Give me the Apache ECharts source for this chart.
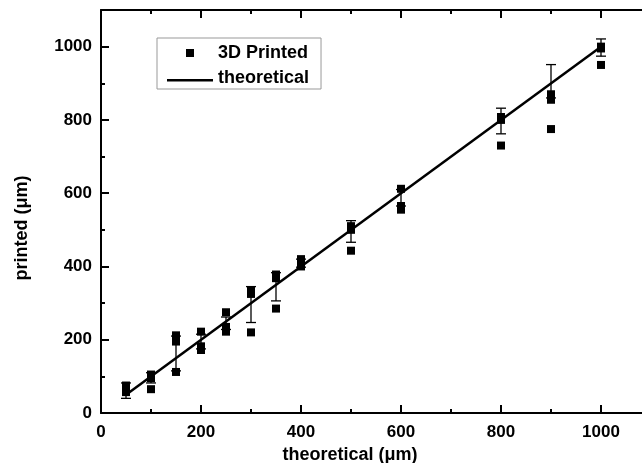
<!DOCTYPE html>
<html>
<head>
<meta charset="utf-8">
<script src="https://cdn.jsdelivr.net/npm/echarts@6/dist/echarts.min.js"></script>
<style>html,body{margin:0;padding:0;background:#fff}#c{width:642px;height:463px}</style>
</head>
<body>
<div id="c"></div>
<script>
// theoretical sizes (µm)
const theoretical = [50, 100, 150, 200, 250, 300, 350, 400, 500, 600, 800, 900, 1000];
// three printed samples per size (µm)
const printedA = [75, 105, 212, 222, 275, 335, 378, 420, 510, 612, 808, 870, 1000];
const printedB = [68, 95, 195, 182, 235, 325, 368, 405, 500, 565, 800, 855, 995];
const printedC = [57, 65, 112, 172, 222, 220, 285, 400, 443, 555, 730, 775, 950];
// error bar bounds
const errLow  = [40, 82, 115, 175, 228, 247, 306, 398, 466, 565, 762, 860, 974];
const errHigh = [82, 110, 210, 215, 262, 345, 383, 420, 525, 610, 832, 951, 1021];
// theoretical line endpoints
const lineX = [50, 1000];
// ticks
const majorTicks = [0, 200, 400, 600, 800, 1000];
const minorTicks = [100, 300, 500, 700, 900];

const FONT = 'Liberation Sans, Arial, sans-serif';

const scatterData = [];
theoretical.forEach((t, i) => {
  scatterData.push([t, printedA[i]]);
  scatterData.push([t, printedB[i]]);
  scatterData.push([t, printedC[i]]);
});
const errData = theoretical.map((t, i) => [t, errLow[i], errHigh[i]]);
const lineData = lineX.map(v => [v, v]);

function axisSet(dir, position, major, showLine, withLabel, name) {
  const a = {
    type: 'value', position: position, min: 0, max: 1100,
    axisLine: { show: showLine, onZero: false, lineStyle: { color: '#000', width: 2 } },
    axisTick: { show: true, inside: true, customValues: major ? majorTicks : minorTicks,
                length: major ? 8 : 4, lineStyle: { color: '#000', width: 2 } },
    axisLabel: { show: withLabel, customValues: majorTicks, color: '#000',
                 formatter: function (v) { return String(v); },
                 fontFamily: FONT, fontWeight: 'bold', fontSize: 17, margin: dir === 'x' ? 11 : 9 },
    splitLine: { show: false }
  };
  if (name) {
    a.name = name;
    a.nameLocation = 'middle';
    a.nameTextStyle = { color: '#000', fontFamily: FONT, fontWeight: 'bold', fontSize: 18,
                        padding: dir === 'x' ? [0, 52, 0, 0] : [0, 33, 0, 0] };
    a.nameGap = dir === 'x' ? 31 : 70;
  }
  return a;
}

const chart = echarts.init(document.getElementById('c'));
chart.setOption({
  animation: false,
  backgroundColor: '#fff',
  grid: { left: 101, top: 10, right: -9, bottom: 50, outerBoundsMode: 'none', containLabel: false },
  xAxis: [
    axisSet('x', 'bottom', true, true, true, 'theoretical (\u03bcm)'),
    axisSet('x', 'bottom', false, false, false),
    axisSet('x', 'top', true, true, false),
    axisSet('x', 'top', false, false, false)
  ],
  yAxis: [
    axisSet('y', 'left', true, true, true, 'printed (\u03bcm)'),
    axisSet('y', 'left', false, false, false),
    axisSet('y', 'right', true, true, false),
    axisSet('y', 'right', false, false, false)
  ],
  legend: {
    left: 157, top: 38, orient: 'vertical',
    padding: [5, 12, 1, 10], itemGap: 5,
    itemWidth: 46, itemHeight: 10,
    borderColor: '#999', borderWidth: 1,
    textStyle: { color: '#000', fontFamily: FONT, fontWeight: 'bold', fontSize: 18, lineHeight: 20 },
    data: [
      { name: '3D Printed', icon: 'path://M0,0M46,10M19,1h8v8h-8z' },
      { name: 'theoretical', icon: 'path://M0,0M46,10M0,6h46v2.5h-46z' }
    ]
  },
  series: [
    {
      name: 'theoretical', type: 'line', data: lineData, symbol: 'none',
      lineStyle: { color: '#000', width: 2.5 }, itemStyle: { color: '#000' }, z: 4
    },
    {
      name: 'error', type: 'custom', data: errData, encode: { x: 0, y: [1, 2] }, z: 3,
      renderItem: function (params, api) {
        const x = api.value(0);
        const pLo = api.coord([x, api.value(1)]);
        const pHi = api.coord([x, api.value(2)]);
        const hw = 5;
        const st = { stroke: '#000', lineWidth: 1.3 };
        return {
          type: 'group', children: [
            { type: 'line', shape: { x1: pLo[0], y1: pLo[1], x2: pHi[0], y2: pHi[1] }, style: st },
            { type: 'line', shape: { x1: pLo[0] - hw, y1: pLo[1], x2: pLo[0] + hw, y2: pLo[1] }, style: st },
            { type: 'line', shape: { x1: pHi[0] - hw, y1: pHi[1], x2: pHi[0] + hw, y2: pHi[1] }, style: st }
          ]
        };
      }
    },
    {
      name: '3D Printed', type: 'scatter', data: scatterData, symbol: 'rect', symbolSize: 8,
      itemStyle: { color: '#000', opacity: 1 }, z: 3
    }
  ]
});
</script>
</body>
</html>
